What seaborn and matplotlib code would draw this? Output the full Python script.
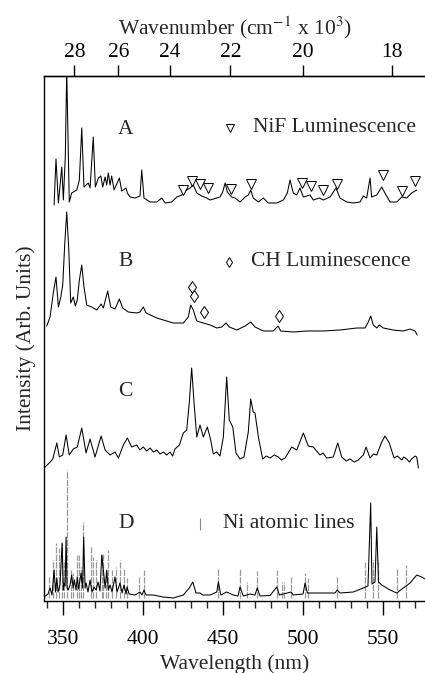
import numpy as np
import matplotlib
matplotlib.use("Agg")
import matplotlib.pyplot as plt
import seaborn as sns

# ---------------- data (wavelength nm, intensity arb. units) ----------------
# trace A: NiF luminescence
wl_a = [344.4, 345.6, 347.1, 349.2, 350.2, 351.4, 352.3, 353.9, 355.4, 358.6, 360.2, 361.7,
        363.1, 365.8, 366.9, 368.9, 370.2, 372.1, 373.6, 374.8, 376.3, 377.3, 378.3, 379.4,
        380.4, 381.9, 385.2, 386.7, 389.4, 390.2, 391.9, 395.0, 398.1, 399.2, 400.6, 404.4,
        408.6, 411.7, 413.8, 417.9, 421.1, 424.2, 427.3, 429.4, 431.4, 433.6, 436.7, 439.8,
        441.9, 446.1, 448.1, 449.8, 451.3, 452.7, 455.4, 457.5, 460.6, 463.8, 465.8, 467.3,
        468.9, 472.1, 475.2, 478.3, 483.6, 487.7, 490.2, 491.9, 493.9, 496.1, 498.1, 500.2,
        504.4, 506.4, 510.2, 512.7, 516.9, 520.6, 523.1, 527.3, 531.4, 535.6, 537.7, 539.8,
        541.9, 542.9, 546.1, 549.2, 551.2, 554.4, 558.6, 561.7, 564.8, 567.9, 571.1]
int_a = [1, 47, 3, 39, 6, 49, 135, 4, 13, 16, 26, 78,
         19, 23, 18, 69, 19, 28, 30, 19, 29, 21, 33, 21,
         30, 16, 28, 15, 18, 13, 9, 8, 10, 36, 8, 4,
         4, 8, 3, 4, 9, 11, 16, 18, 21, 13, 10, 8,
         6, 8, 9, 14, 23, 14, 9, 8, 4, 9, 11, 16,
         8, 4, 8, 3, 3, 6, 13, 26, 13, 11, 18, 9,
         11, 6, 8, 6, 9, 18, 8, 4, 3, 4, 10, 8,
         28, 9, 11, 19, 13, 4, 4, 9, 8, 13, 16]
nif_wl = [425.0, 430.3, 435.6, 440.3, 455.0, 467.2, 499.4, 505.0, 512.5, 521.3, 550.2, 561.7, 570.0]
nif_int = [16, 25, 22, 18.5, 17.5, 22, 23, 20.5, 16, 22.5, 31.5, 15, 25]

# trace B: CH luminescence
wl_b = [339.8, 341.9, 343.9, 345.6, 347.1, 348.6, 349.8, 351.1, 352.3, 353.6, 354.8, 356.4,
        357.7, 358.9, 360.2, 361.7, 363.1, 364.8, 367.9, 371.1, 373.8, 375.2, 377.9, 379.8,
        382.5, 385.2, 387.3, 390.8, 396.1, 398.1, 400.2, 401.9, 408.6, 418.9, 425.2, 428.3,
        429.8, 431.4, 433.6, 437.7, 441.9, 446.1, 449.2, 451.9, 453.9, 458.6, 463.8, 467.3,
        470.0, 475.2, 481.4, 484.4, 486.1, 493.9, 502.3, 512.7, 523.1, 533.6, 538.8, 540.8,
        542.3, 543.9, 546.1, 547.7, 550.2, 556.4, 562.7, 566.9, 570.0, 571.4]
int_b = [10, 19, 43, 59, 29, 39, 51, 93, 124, 86, 33, 39,
         30, 36, 56, 71, 49, 31, 29, 26, 32, 28, 45, 29,
         27, 37, 28, 24, 23, 24, 29, 23, 18, 13, 13, 19,
         31, 26, 15, 13, 11, 8, 9, 13, 9, 6, 10, 14,
         9, 5, 5, 10, 5, 4, 5, 5, 6, 8, 8, 14,
         20, 11, 8, 11, 8, 6, 5, 7, 5, 1]
ch_wl = [430.9, 431.7, 437.9, 485.0]
ch_int = [49, 40.5, 24.3, 20]

# trace C
wl_c = [338.8, 341.4, 343.6, 346.1, 347.7, 349.8, 351.9, 353.9, 356.4, 358.9, 361.7, 364.4,
        366.9, 370.0, 373.8, 376.3, 379.4, 382.5, 384.6, 387.7, 390.2, 392.9, 396.1, 398.0,
        400.2, 402.3, 404.4, 406.5, 408.6, 410.6, 412.7, 414.8, 416.9, 418.5, 420.0, 422.7,
        425.2, 427.3, 428.9, 430.4, 431.9, 433.6, 435.6, 437.7, 440.2, 442.3, 443.9, 446.0,
        448.1, 450.2, 452.3, 453.9, 456.1, 458.1, 460.6, 463.1, 465.8, 467.3, 468.9, 470.0,
        472.1, 474.8, 477.0, 479.4, 482.0, 484.6, 486.5, 488.8, 492.9, 496.1, 500.2, 503.3,
        506.4, 510.6, 512.5, 514.8, 518.9, 521.7, 524.2, 527.0, 529.4, 532.0, 534.6, 537.7,
        539.4, 541.9, 544.0, 546.1, 549.2, 551.3, 553.9, 556.9, 559.0, 561.7, 563.0, 564.8,
        566.5, 567.9, 570.0, 571.1, 572.1]
int_c = [4, 8, 12, 28, 14, 16, 36, 16, 22, 24, 43, 18,
         32, 14, 35, 21, 16, 19, 13, 26, 33, 24, 26, 21,
         24, 20, 23, 19, 21, 17, 19, 16, 19, 15, 22, 26,
         38, 41, 68, 103, 68, 34, 46, 34, 44, 31, 17, 19,
         15, 34, 94, 51, 44, 18, 12, 14, 39, 72, 59, 58,
         34, 12, 15, 13, 16, 14, 11, 13, 24, 21, 38, 25,
         24, 16, 18, 13, 14, 28, 14, 10, 12, 9, 11, 16,
         24, 13, 17, 16, 29, 35, 28, 13, 15, 11, 14, 12,
         9, 12, 15, 14, 3]

# trace D
wl_d = [338.1, 340.6, 341.9, 343.1, 344.4, 345.3, 346.1, 346.9, 348.1, 349.4, 350.2, 350.6,
        351.3, 351.9, 352.5, 353.3, 354.4, 355.4, 356.3, 357.1, 358.1, 358.9, 359.7, 361.3,
        362.2, 362.9, 363.8, 364.4, 365.6, 366.9, 368.1, 369.4, 370.6, 371.9, 373.1, 374.2,
        375.2, 376.3, 377.3, 378.3, 379.4, 380.6, 382.5, 383.8, 385.6, 386.9, 388.1, 389.4,
        390.0, 391.3, 395.0, 398.1, 399.4, 400.6, 401.9, 406.4, 412.5, 418.9, 425.2, 428.9,
        431.1, 433.1, 435.6, 437.3, 441.9, 446.1, 447.1, 448.6, 452.3, 456.4, 459.4, 460.6,
        462.7, 466.9, 470.0, 471.4, 473.1, 479.4, 483.6, 485.2, 492.5, 493.9, 500.0, 501.3,
        502.7, 506.4, 512.7, 520.0, 521.4, 523.1, 531.4, 537.7, 540.6, 542.3, 543.1, 545.0,
        546.1, 547.2, 549.2, 554.4, 558.6, 562.7, 566.9, 571.1, 574.2, 576.3]
int_d = [4, 7, 13, 6, 31, 9, 23, 9, 16, 58, 11, 18,
         15, 64, 13, 11, 16, 26, 13, 21, 11, 24, 12, 28,
         13, 64, 13, 18, 9, 21, 9, 14, 11, 19, 10, 46,
         31, 13, 31, 11, 16, 9, 24, 9, 18, 8, 16, 7,
         14, 7, 6, 9, 6, 11, 6, 6, 4, 3, 6, 13,
         19, 8, 8, 6, 6, 9, 19, 6, 9, 6, 5, 14,
         5, 7, 6, 13, 5, 5.5, 14, 6, 9, 6, 7, 18,
         8, 8, 8, 8, 11, 8, 9, 13, 15, 98, 17, 19,
         74, 19, 16, 11, 8, 13, 18, 26, 24, 22]

# Ni atomic reference lines
ni_wl = [341.4, 343.9, 345.6, 347.7, 349.2, 350.6, 352.3, 354.8, 356.4, 358.9, 360.2, 361.1,
         362.3, 367.3, 368.9, 370.6, 374.2, 375.2, 376.7, 378.3, 380.4, 383.1, 385.6, 388.1,
         390.2, 397.7, 400.6, 447.1, 460.6, 464.8, 471.4, 483.6, 486.7, 488.1, 492.5, 501.3,
         503.3, 521.4, 538.8, 543.6, 547.1, 558.6, 564.2]
ni_int = [24, 41, 58, 53, 58, 41, 131, 31, 28, 46, 46, 34,
          79, 54, 44, 41, 46, 48, 31, 51, 31, 34, 41, 33,
          23, 24, 31, 33, 33, 19, 30, 31, 19, 19, 24, 28,
          23, 24, 39, 41, 41, 33, 36]

offsets = {"A": 395, "B": 265, "C": 130, "D": 0}
wn_ticks = [18, 20, 22, 24, 26, 28]

# ---------------- style ----------------
sns.set_theme(style="white")
plt.rcParams["font.family"] = ["Liberation Serif", "DejaVu Serif"]
plt.rcParams["mathtext.fontset"] = "stix"
FS = 15.5

fig = plt.figure(figsize=(4.25, 6.73), dpi=100)
ax = fig.add_axes([44 / 425, 1 - 601 / 673, 381 / 425, 525 / 673])

# Ni lines (gray dashed) under trace D
ax.vlines(ni_wl, 3, ni_int, colors="0.6", linestyles=(0, (5, 1)), lw=0.9)

traces = [(wl_a, int_a, "A"), (wl_b, int_b, "B"), (wl_c, int_c, "C"), (wl_d, int_d, "D")]
for wl, it, key in traces:
    sns.lineplot(x=wl, y=np.array(it) + offsets[key], ax=ax, color="black", lw=0.75,
                 estimator=None, sort=False)

ax.plot(nif_wl, np.array(nif_int) + offsets["A"], ls="none", marker="v", ms=7,
        mfc="white", mec="black", mew=0.7)
ax.plot(ch_wl, np.array(ch_int) + offsets["B"], ls="none", marker="d", ms=6,
        mfc="white", mec="black", mew=0.7)

# labels inside the panel
for key, yy in [("A", 471), ("B", 339), ("C", 209), ("D", 77)]:
    ax.text(384.5, yy, key, fontsize=FS, ha="left", va="center")
ax.plot([454.4], [473], ls="none", marker="v", ms=5.5, mfc="white", mec="black", mew=0.7)
ax.text(468.7, 473, "NiF Luminescence", fontsize=FS, va="center")
ax.plot([453.9], [339], ls="none", marker="d", ms=5, mfc="white", mec="black", mew=0.7)
ax.text(467.3, 339, "CH Luminescence", fontsize=FS, va="center")
ax.vlines([435.6], 71, 83, colors="0.55", lw=0.8)
ax.text(449.8, 77, "Ni atomic lines", fontsize=FS, va="center")

ax.set_xlim(338.1, 576.25)
ax.set_ylim(0, 525)
ax.set_yticks([])
ax.set_xticks([350, 400, 450, 500, 550])
ax.set_xticks(np.arange(340, 580, 10), minor=True)
ax.tick_params(axis="x", which="major", direction="out", length=10, width=1, labelsize=FS,
               pad=11, bottom=True, colors="black")
ax.tick_params(axis="x", which="minor", direction="out", length=5, width=1, bottom=True)
ax.set_xlabel("Wavelength (nm)", fontsize=FS, labelpad=4)
ax.set_ylabel("Intensity (Arb. Units)", fontsize=FS, labelpad=6)
for s in ["left", "bottom", "top"]:
    ax.spines[s].set_color("black")
    ax.spines[s].set_linewidth(1)
ax.spines["right"].set_visible(False)

sec = ax.secondary_xaxis("top", functions=(lambda x: 1e4 / x, lambda x: 1e4 / x))
sec.set_xticks(wn_ticks)
sec.tick_params(direction="out", length=8, width=1, labelsize=FS, pad=2, colors="black")
sec.set_xlabel("Wavenumber (cm$^{-1}$ x 10$^{3}$)", fontsize=FS, labelpad=6)
sec.spines["top"].set_linewidth(1)

fig.savefig("out.png", dpi=100)
